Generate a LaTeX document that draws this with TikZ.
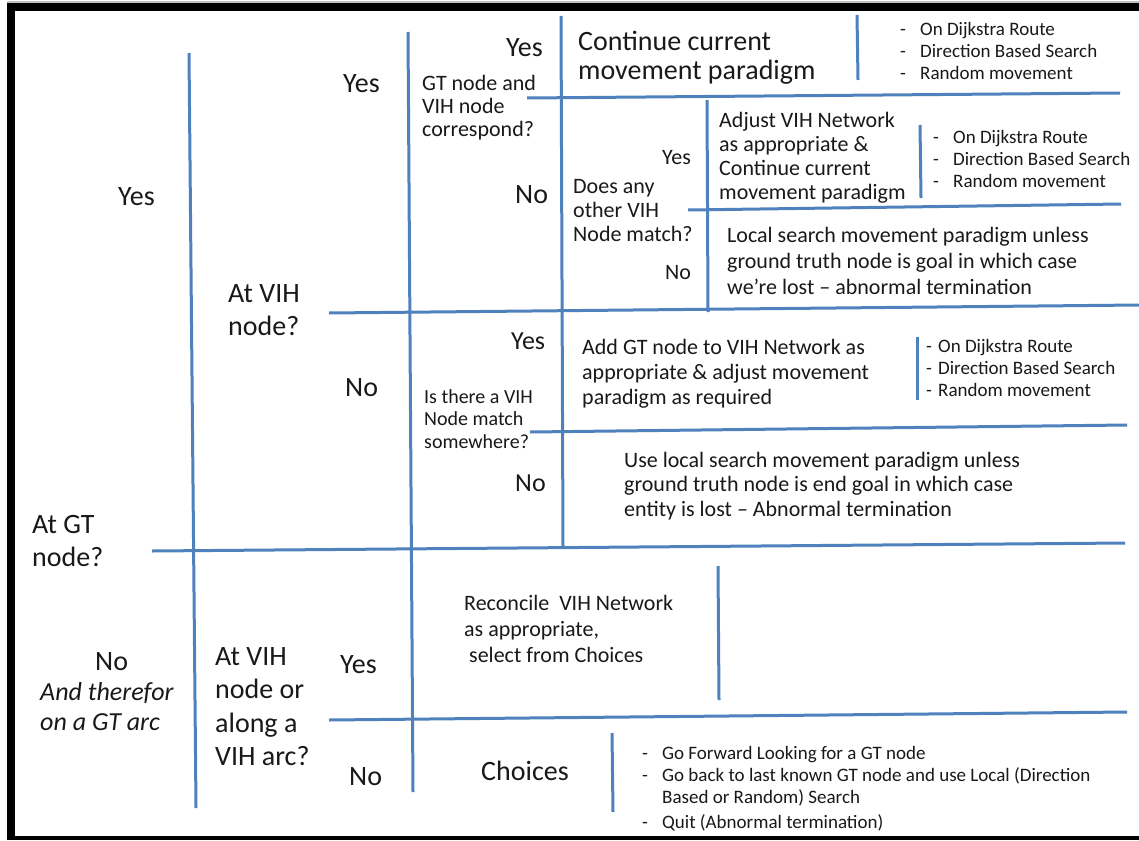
\documentclass[tikz,border=0pt]{standalone}
\usepackage{fontspec}
\setmainfont{Carlito}
\definecolor{rulecol}{RGB}{79,129,189}
\definecolor{ink}{RGB}{25,25,25}
\newcommand{\bul}[1]{\makebox[#1][l]{-}}
\begin{document}
% multi-line labels are placed by the baseline of their last line
\begin{tikzpicture}[x=1pt,y=-1pt,
  rule/.style={draw=rulecol,line width=3pt},
  txt/.style 2 args={font=\fontsize{#1}{#2}\selectfont,text=ink,anchor=base west,inner sep=0pt,align=left},
]
\useasboundingbox (0,0) rectangle (1139,840);
\fill[white] (0,0) rectangle (1139,840);
% outer frame
\fill[black!25] (7,1.5) rectangle (1139,3);
\fill[black] (7,3) rectangle (1139,11.5);
\fill[black] (7,3) rectangle (15,840);
\fill[black] (7,836) rectangle (1139,840);

% vertical rules
\draw[rule] (189,53) -- (196,808);
\draw[rule] (408,32) -- (413,792);
\draw[rule] (561,16) -- (563,548);
\draw[rule] (707,100) -- (708,312);
\draw[rule] (857,15) -- (858,80);
\draw[rule] (920,125) -- (921,198);
\draw[rule] (917,337) -- (917,400);
\draw[rule] (718,566) -- (719,700);
\draw[rule] (612,733) -- (613,812);

% horizontal rules
\draw[rule] (527,98) -- (1120,93);
\draw[rule] (688,210) -- (1121,204);
\draw[rule] (329,313) -- (1139,305);
\draw[rule] (530,432) -- (1127,425);
\draw[rule] (152,551) -- (1125,543);
\draw[rule] (329,720) -- (1127,712);

% first column
\node[txt={28}{33}] (yesA) at (118,205) {Yes};
\node[txt={28}{33}] (atgt) at (32,566) {At GT\\node?};
\node[txt={28}{33}] (noA) at (95,670) {No};
\node[txt={26}{30},font=\fontsize{26}{30}\selectfont\itshape] (arc) at (40,730) {And therefor\\on a GT arc};

% second column
\node[txt={28}{33}] (atvih) at (228,335) {At VIH\\node?};
\node[txt={28}{33.5}] (atvih2) at (215,765.5) {At VIH\\node or\\along a\\VIH arc?};
\node[txt={28}{33}] (yesB) at (343,93) {Yes};
\node[txt={28}{33}] (noB) at (345,396) {No};
\node[txt={28}{33}] (yesC) at (340,673) {Yes};
\node[txt={28}{33}] (noC) at (349,785) {No};

% GT node and VIH node correspond
\node[txt={22}{23}] (corr) at (422,136) {GT node and\\VIH node\\correspond?};
\node[txt={28}{33}] (yesD) at (506,57) {Yes};
\node[txt={28}{33}] (noD) at (515,203) {No};
\node[txt={28}{29}] (cont) at (578,80) {Continue current\\movement paradigm};
\node[txt={19}{22}] (listA) at (900,80) {\bul{20pt}On Dijkstra Route\\\bul{20pt}Direction Based Search\\\bul{20pt}Random movement};

% other VIH node match
\node[txt={22}{24}] (other) at (573,241) {Does any\\other VIH\\Node match?};
\node[txt={22}{26}] (yesE) at (662,164) {Yes};
\node[txt={22}{26}] (noE) at (665,279) {No};
\node[txt={22}{23.7}] (adj) at (719,199) {Adjust VIH Network\\as appropriate \&\\Continue current\\movement paradigm};
\node[txt={19}{22}] (listB) at (933,187) {\bul{20pt}On Dijkstra Route\\\bul{20pt}Direction Based Search\\\bul{20pt}Random movement};
\node[txt={22}{26}] (local) at (727,294) {Local search movement paradigm unless\\ground truth node is goal in which case\\we’re lost – abnormal termination};

% VIH node match somewhere
\node[txt={20}{22.5}] (some) at (424,448) {Is there a VIH\\Node match\\somewhere?};
\node[txt={26}{30}] (yesF) at (511,349) {Yes};
\node[txt={26}{30}] (noF) at (515,491) {No};
\node[txt={22}{25}] (addgt) at (582,404) {Add GT node to VIH Network as\\appropriate \& adjust movement\\paradigm as required};
\node[txt={19}{22}] (listC) at (926,396) {\bul{12pt}On Dijkstra Route\\\bul{12pt}Direction Based Search\\\bul{12pt}Random movement};
\node[txt={22}{24.5}] (uselocal) at (624,516) {Use local search movement paradigm unless\\ground truth node is end goal in which case\\entity is lost – Abnormal termination};

% not at a GT node
\node[txt={22}{26}] (recon) at (464,662) {Reconcile\ \ VIH Network\\as appropriate,\\\ select from Choices};
\node[txt={28}{33}] (choices) at (481,780) {Choices};
\node[txt={19}{22}] (listD) at (642,828) {\bul{20pt}Go Forward Looking for a GT node\\\bul{20pt}Go back to last known GT node and use Local (Direction\\\hspace*{20pt}Based or Random) Search\\[3pt]\bul{20pt}Quit (Abnormal termination)};
\end{tikzpicture}
\end{document}
